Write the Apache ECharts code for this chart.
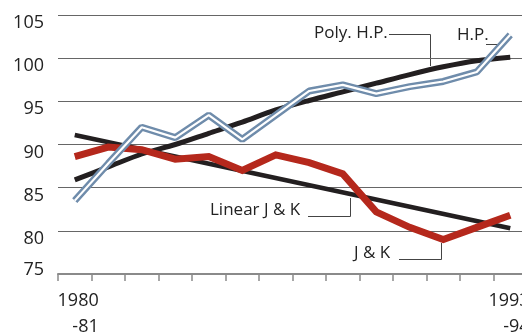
<!DOCTYPE html>
<html>
<head>
<meta charset="utf-8">
<script src="https://cdn.jsdelivr.net/npm/echarts@6/dist/echarts.min.js"></script>
<style>
  html, body { margin: 0; padding: 0; background: #fff; }
  #chart { width: 522px; height: 332px; }
</style>
</head>
<body>
<div id="chart"></div>
<script>
// 年度（只显示首尾）
const years = ['1980\n-81', '1981\n-82', '1982\n-83', '1983\n-84', '1984\n-85', '1985\n-86', '1986\n-87',
  '1987\n-88', '1988\n-89', '1989\n-90', '1990\n-91', '1991\n-92', '1992\n-93', '1993\n-94'];
const yTicks = [75, 80, 85, 90, 95, 100, 105];

const hp = [83.5, 87.8, 92.0, 90.8, 93.4, 90.6, 93.4, 96.2, 96.9, 95.9, 96.7, 97.3, 98.4, 102.7];
const polyHp = [85.9, 87.4, 88.9, 90.0, 91.3, 92.6, 94.0, 95.1, 96.1, 97.1, 98.1, 99.0, 99.7, 100.1];
const jk = [88.6, 89.7, 89.4, 88.3, 88.6, 87.0, 88.8, 87.9, 86.6, 82.2, 80.4, 79.0, 80.4, 81.8];
// 线性趋势：只有两端
const linearJk = [91.1, null, null, null, null, null, null, null, null, null, null, null, null, 80.3];

const FONT = '"Open Sans", "Noto Sans", sans-serif';
const chart = echarts.init(document.getElementById('chart'));

const lastIdx = years.length - 1;

const option = {
  animation: false,
  backgroundColor: '#fff',
  grid: { left: 58, right: -5, top: 15, bottom: 58, outerBoundsMode: 'none', containLabel: false },
  xAxis: {
    type: 'category',
    data: years,
    boundaryGap: true,
    axisLine: { lineStyle: { color: '#8a8a8a', width: 2 } },
    axisTick: { show: true, interval: 0, length: 7, lineStyle: { color: '#8a8a8a', width: 1.5 } },
    axisLabel: {
      interval: (i) => i === 0 || i === lastIdx,
      // 最后一个标签略微左移
      formatter: (v, i) => i === lastIdx ? v.split('\n').map((s) => s + ' ').join('\n') : v,
      align: 'right',
      padding: [0, -24, 0, 0],
      margin: 14,
      lineHeight: 26,
      fontSize: 18,
      fontFamily: FONT,
      color: '#222'
    },
    splitLine: { show: false }
  },
  yAxis: {
    type: 'value',
    min: yTicks[0],
    max: yTicks[yTicks.length - 1],
    interval: 5,
    axisLine: { show: false },
    axisTick: { show: false },
    axisLabel: {
      margin: 14,
      fontSize: 18,
      fontFamily: FONT,
      color: '#222',
      formatter: (v) => v === 75 ? '{low|' + v + '}' : '{n|' + v + '}',
      rich: {
        n: { fontSize: 18, fontFamily: FONT, color: '#222', padding: [16, 0, 0, 0] },
        low: { fontSize: 18, fontFamily: FONT, color: '#222', padding: [0, 0, 9, 0] }
      }
    },
    splitLine: { lineStyle: { color: '#666', width: 1 } }
  },
  series: [
    {
      name: 'Linear J & K', type: 'line', data: linearJk, connectNulls: true,
      symbol: 'none', lineStyle: { color: '#231f20', width: 4.5 }, z: 2
    },
    {
      name: 'Poly. H.P.', type: 'line', data: polyHp, smooth: 0.3,
      symbol: 'none', lineStyle: { color: '#231f20', width: 5 }, z: 3
    },
    {
      name: 'J & K', type: 'line', data: jk,
      symbol: 'none', lineStyle: { color: '#b5281c', width: 7, join: 'miter' }, z: 4
    },
    {
      name: 'H.P.', type: 'line', data: hp,
      symbol: 'none', lineStyle: { color: '#6f8cab', width: 7 }, z: 5
    },
    {
      name: 'H.P. inner', type: 'line', data: hp,
      symbol: 'none', lineStyle: { color: '#ffffff', width: 2.2 }, z: 6
    }
  ],
  graphic: [
    { type: 'text', left: 314, top: 25, style: { text: 'Poly. H.P.', font: '17px ' + FONT, fill: '#222' } },
    { type: 'polyline', shape: { points: [[389, 34.5], [430.5, 34.5], [430.5, 66]] }, style: { stroke: '#444', lineWidth: 1, fill: null } },
    { type: 'text', left: 457, top: 27, style: { text: 'H.P.', font: '17px ' + FONT, fill: '#222' } },
    { type: 'polyline', shape: { points: [[486, 44.5], [498, 44.5]] }, style: { stroke: '#444', lineWidth: 1, fill: null } },
    { type: 'text', left: 210, top: 202, style: { text: 'Linear J & K', font: '17px ' + FONT, fill: '#222' } },
    { type: 'polyline', shape: { points: [[308, 216.5], [350.5, 216.5], [350.5, 198]] }, style: { stroke: '#444', lineWidth: 1, fill: null } },
    { type: 'text', left: 354, top: 245, style: { text: 'J & K', font: '17px ' + FONT, fill: '#222' } },
    { type: 'polyline', shape: { points: [[399, 259.5], [441.5, 259.5], [441.5, 243]] }, style: { stroke: '#444', lineWidth: 1, fill: null } }
  ]
};

chart.setOption(option);
</script>
</body>
</html>
